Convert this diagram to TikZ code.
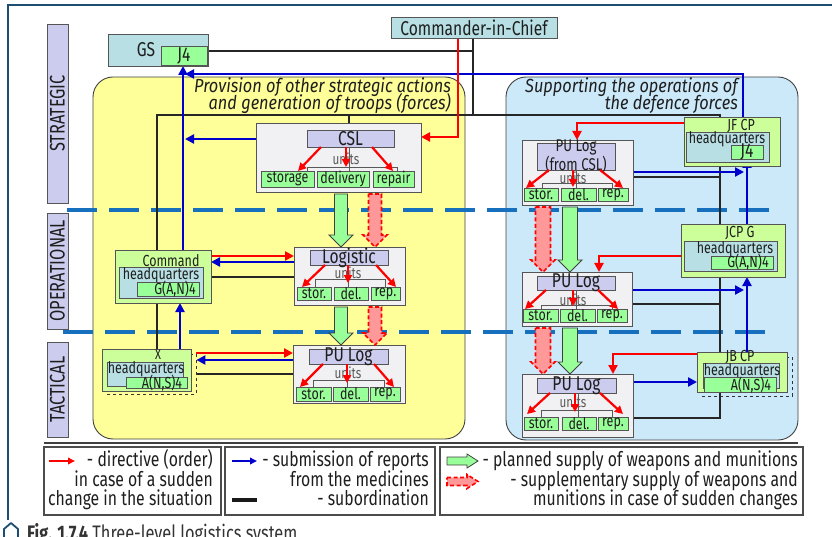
\documentclass[tikz,border=0pt]{standalone}
\usepackage{fontspec}
\setmainfont{Fira Sans}[FakeStretch=0.78]
\newfontfamily\areatitlefont{Fira Sans}[FakeStretch=0.86]
\usetikzlibrary{arrows.meta,fit,calc}
\definecolor{frameblue}{HTML}{1D4E6F}
\definecolor{tealf}{HTML}{B8E0E4}
\definecolor{lavf}{HTML}{CCCCEE}
\definecolor{subf}{HTML}{99FF99}
\definecolor{cpf}{HTML}{CCFF99}
\definecolor{grayf}{HTML}{F1F1F3}
\definecolor{yelf}{HTML}{FFFF99}
\definecolor{skyf}{HTML}{CCE9FA}
\definecolor{dashblue}{HTML}{1670BE}
\definecolor{repblue}{HTML}{0000CC}
\definecolor{ordred}{HTML}{FF0000}
\definecolor{pinkf}{HTML}{FF9999}
\definecolor{ink}{HTML}{1E1E1E}
\definecolor{edge}{HTML}{555555}
\newcommand\fsz[1]{\fontsize{#1}{#1}\selectfont}
% vertical block arrow: [half shaft width]{style}{top point}{tip point}
\newcommand\supply[4][6.5]{%
  \path[#2] let \p1=#3, \p2=#4 in
    (\x1-#1pt,\y1-2pt) -- (\x1+#1pt,\y1-2pt) -- (\x1+#1pt,\y2+12pt)
    -- (\x1+12pt,\y2+12pt) -- (\x1,\y2) -- (\x1-12pt,\y2+12pt)
    -- (\x1-#1pt,\y2+12pt) -- cycle;}
\pgfdeclarelayer{areas}
\pgfdeclarelayer{links}
\pgfsetlayers{areas,links,main}
\begin{document}
\begin{tikzpicture}[x=1pt,y=-1pt,
  basebox/.style={draw=edge,line width=0.8pt,inner sep=0pt,outer sep=0pt},
  tealbox/.style={basebox,fill=tealf},
  lavbox/.style={basebox,fill=lavf},
  subbox/.style={basebox,fill=subf},
  cpbox/.style={basebox,fill=cpf},
  unitbox/.style={basebox,fill=grayf},
  legbox/.style={draw=black!70,line width=1.1pt,inner sep=0pt,outer sep=0pt},
  shadowbox/.style={draw=black!80,dashed,line width=0.8pt,inner sep=0pt},
  region/.style={draw=black!75,line width=0.9pt,rounded corners=20pt,inner sep=0pt},
  lvl/.style={inner sep=0pt,text=ink,font=\fsz{21},rotate=90},
  t13/.style={inner sep=0pt,text=ink,font=\fsz{14}},
  t15/.style={inner sep=0pt,text=ink,font=\fsz{16}},
  t17/.style={inner sep=0pt,text=ink,font=\fsz{17}},
  t19/.style={inner sep=0pt,text=ink,font=\fsz{20}},
  unitstxt/.style={inner sep=0pt,text=black!65,font=\fsz{15}},
  ttl/.style={inner sep=0pt,text=ink,font=\areatitlefont\itshape\fsz{19}},
  legtxt/.style={inner sep=0pt,text=ink,font=\fsz{20.2},anchor=base east},
  treeln/.style={draw=black!65,line width=0.9pt},
  subord/.style={draw=black!85,line width=2.2pt},
  reparr/.style={draw=repblue,line width=2.9pt,-{Triangle[length=9pt,width=9pt]}},
  ordarr/.style={draw=ordred,line width=2.9pt,-{Triangle[length=9pt,width=9pt]}},
  ordin/.style={draw=ordred,line width=2.2pt,-{Triangle[length=8pt,width=8pt]}},
  plansup/.style={draw=black!75,line width=0.8pt,fill=subf,line join=miter},
  extrasup/.style={draw=ordred,line width=1.6pt,dash pattern=on 4pt off 2.5pt,fill=pinkf},
  levelline/.style={draw=dashblue,line width=3.5pt,dash pattern=on 30pt off 12pt},
]
\useasboundingbox (0,0) rectangle (832,537);
\clip (0,0) rectangle (832,537);

% page frame and caption
\draw[frameblue,line width=2.5pt] (8,520) -- (8,5) -- (840,5);
\draw[frameblue,line width=1.8pt,line join=round] (4,542) -- (4,529) -- (11,523) -- (18,529) -- (18,542);
\node[inner sep=0pt,anchor=base west,text=black!80,font=\fsz{21}] (caption) at (27,540)
  {\textbf{Fig. 1.7.4} Three-level logistics system};

% command levels
\node[lavbox,fit={(47,24)(68,203)},label={[lvl]center:STRATEGIC}] (strat) {};
\node[lavbox,fit={(47,213)(68,329)},label={[lvl]center:OPERATIONAL}] (oper) {};
\node[lavbox,fit={(47,342)(68,437)},label={[lvl]center:TACTICAL}] (tact) {};

% areas of responsibility
\begin{pgfonlayer}{areas}
\node[region,fill=yelf,fit={(93,77)(465,439)}] (yarea) {};
\node[region,fill=skyf,fit={(506,77)(798,440)}] (barea) {};
\draw[levelline] (67,210) -- (770,210);
\draw[levelline] (63,332) -- (770,332);
\end{pgfonlayer}
\node[ttl,anchor=base east] (ytitle1) at (451,93) {Provision of other strategic actions};
\node[ttl,anchor=base east] (ytitle2) at (451,110) {and generation of troops (forces)};
\node[ttl,anchor=base east] (btitle1) at (738,93) {Supporting the operations of};
\node[ttl,anchor=base east] (btitle2) at (738,110) {the defence forces};

% ---- command posts ----
\node[tealbox,fit={(108,34)(208,66)}] (gs) {};
\node[t19] (gstxt) at (146,50) {GS};
\node[subbox,fit={(161,46)(207,65)},label={[t19]center:J4}] (gsj4) {};
\node[tealbox,fit={(391,17)(557,38)},label={[t19]center:Commander-in-Chief}] (cinc) {};

% CSL
\node[unitbox,fit={(256,123)(421,192)}] (csl) {};
\node[lavbox,fit={(307,130)(394,147)},label={[t19]center:CSL}] (csllab) {};
\node[unitstxt] (cslunits) at (346,159) {units};
\node[subbox,fit={(261,171)(314,187)},label={[t15]center:storage}] (cs1) {};
\node[subbox,fit={(317,171)(369,187)},label={[t15]center:delivery}] (cs2) {};
\node[subbox,fit={(373,171)(414,187)},label={[t15]center:repair}] (cs3) {};

% Logistic units
\node[unitbox,fit={(294,247)(405,305)}] (log) {};
\node[lavbox,fit={(310,250)(388,265)},label={[t19]center:Logistic}] (loglab) {};
\node[unitstxt] (logunits) at (348,273) {units};
\node[subbox,fit={(297,287)(331,300)},label={[t15]center:stor.}] (lg1) {};
\node[subbox,fit={(334,287)(368,300)},label={[t15]center:del.}] (lg2) {};
\node[subbox,fit={(371,287)(400,300)},label={[t15]center:rep.}] (lg3) {};

% PU Log (tactical, left)
\node[unitbox,fit={(293,345)(405,403)}] (pu1) {};
\node[lavbox,fit={(309,349)(388,364)},label={[t19]center:PU Log}] (pu1lab) {};
\node[unitstxt] (pu1units) at (348,373) {units};
\node[subbox,fit={(296,387)(331,401)},label={[t15]center:stor.}] (p11) {};
\node[subbox,fit={(333,387)(368,401)},label={[t15]center:del.}] (p12) {};
\node[subbox,fit={(370,387)(400,401)},label={[t15]center:rep.}] (p13) {};

% Command headquarters
\node[cpbox,fit={(115,250)(211,303)}] (cmd) {};
\node[t15] (cmdtxt) at (171,261) {Command};
\node[tealbox,fit={(119,267)(203,298)}] (cmdhq) {};
\node[t15] (cmdhqtxt) at (161,275) {headquarters};
\node[subbox,fit={(137,282)(199,296)}] (cmdg) {};
\node[t15] (cmdgtxt) at (175,289) {G(A,N)4};

% X headquarters
\node[shadowbox,fit={(107,354)(196,394)}] (xsh) {};
\node[cpbox,fit={(102,349)(191,391)}] (xb) {};
\node[t13] (xtxt) at (158,355) {X};
\node[tealbox,fit={(107,362)(183,386)}] (xhq) {};
\node[t15] (xhqtxt) at (146,369) {headquarters};
\node[subbox,fit={(126,377)(187,388)}] (xa) {};
\node[t15] (xatxt) at (162,383) {A(N,S)4};

% JF CP
\node[cpbox,fit={(684,117)(780,166)}] (jf) {};
\node[t15] (jftxt) at (741,126) {JF CP};
\node[tealbox,fit={(686,132)(769,162)}] (jfhq) {};
\node[t15] (jfhqtxt) at (727,139) {headquarters};
\node[subbox,fit={(731,145)(763,159)},label={[t19]center:J4}] (jfj4) {};

% JCP G
\node[cpbox,fit={(681,224)(785,277)}] (jcp) {};
\node[t15] (jcptxt) at (740,233) {JCP G};
\node[tealbox,fit={(684,241)(777,271)}] (jcphq) {};
\node[t15] (jcphqtxt) at (735,249) {headquarters};
\node[subbox,fit={(711,256)(773,269)}] (jcpg) {};
\node[t15] (jcpgtxt) at (748,262) {G(A,N)4};

% JB CP
\node[shadowbox,fit={(702,357)(792,396)}] (jbsh) {};
\node[cpbox,fit={(697,352)(787,392)}] (jb) {};
\node[tealbox,fit={(703,363)(779,388)}] (jbhq) {};
\node[t15] (jbtxt) at (740,357) {JB CP};
\node[t15] (jbhqtxt) at (742,371) {headquarters};
\node[subbox,fit={(704,377)(776,392)}] (jba) {};
\node[t15] (jbatxt) at (751,385) {A(N,S)4};

% PU Log (from CSL)
\node[unitbox,fit={(522,140)(633,205)}] (pua) {};
\node[lavbox,fit={(537,143)(615,170)},label={[t17,align=center,font=\fontsize{17}{13}\selectfont]center:{PU Log\\(from CSL)}}] (pualab) {};
\node[unitstxt] (puaunits) at (573,178) {units};
\node[subbox,fit={(524,188)(558,201)},label={[t15]center:stor.}] (pa1) {};
\node[subbox,fit={(561,188)(596,201)},label={[t15]center:del.}] (pa2) {};
\node[subbox,fit={(598,188)(628,201)},label={[t15]center:rep.}] (pa3) {};

% PU Log (operational, right)
\node[unitbox,fit={(522,272)(632,326)}] (pub) {};
\node[lavbox,fit={(537,276)(615,290)},label={[t19]center:PU Log}] (publab) {};
\node[unitstxt] (pubunits) at (573,300) {units};
\node[subbox,fit={(523,309)(558,322)},label={[t15]center:stor.}] (pb1) {};
\node[subbox,fit={(560,309)(595,322)},label={[t15]center:del.}] (pb2) {};
\node[subbox,fit={(597,309)(627,322)},label={[t15]center:rep.}] (pb3) {};

% PU Log (tactical, right)
\node[unitbox,fit={(522,374)(633,437)}] (puc) {};
\node[lavbox,fit={(537,378)(616,393)},label={[t19]center:PU Log}] (puclab) {};
\node[unitstxt] (pucunits) at (573,402) {units};
\node[subbox,fit={(524,417)(558,430)},label={[t15]center:stor.}] (pc1) {};
\node[subbox,fit={(562,417)(596,430)},label={[t15]center:del.}] (pc2) {};
\node[subbox,fit={(598,417)(628,430)},label={[t15]center:rep.}] (pc3) {};

% ---- connectors, behind the boxes ----
\coordinate (tcorner) at (157,115);
\coordinate (rcorner) at (720,115);
\coordinate (bcornerL) at (183,74);
\coordinate (bcornerR) at (743,74);
\coordinate (bvert) at (747,200);
\begin{pgfonlayer}{links}
% subordination
\draw[subord] (gs.east |- 0,51) -| (cinc.south -| 473,0);
\draw[subord] (cinc.south -| 473,0) -- (473,0 |- tcorner);
\draw[subord] (cmd.north -| tcorner) -- (tcorner) -- (rcorner) -- (jf.north -| rcorner);
\draw[subord] (csl.north -| 349,0) -- (349,0 |- tcorner);
\draw[subord] (cmd.south -| tcorner) -- (xb.north -| tcorner);
\draw[subord] (cmd.east |- 0,277) -- (log.west |- 0,277);
\draw[subord] (xsh.east |- 0,374) -- (pu1.west |- 0,374);
\draw[subord] (jf.south -| rcorner) -- (jcp.north -| rcorner);
\draw[subord] (jcp.south -| rcorner) -- (jb.north -| rcorner);
\draw[subord] (jb.south -| rcorner) |- (puc.east |- 0,418);
\draw[subord] (pua.east |- 0,177) -- (rcorner |- 0,177);
\draw[subord] (pub.east |- 0,304) -- (rcorner |- 0,304);
% reports
\draw[reparr] (jf.north -| bcornerR) |- ($(bcornerL)+(2,0)$);
\draw[reparr] (cmd.north -| bcornerL) -- (gs.south -| bcornerL);
\draw[reparr] (csl.west |- 0,139) -- ($(bcornerL |- 0,139)+(2,0)$);
\draw[reparr] (xb.north -| 180,0) -- (cmd.south -| 180,0);
\draw[reparr] (log.west |- 0,262) -- (cmd.east |- 0,262);
\draw[reparr] (pu1.west |- 0,360) -- (xsh.east |- 0,360);
\draw[reparr] (pua.east |- 0,172) -- ($(bvert |- 0,172)+(-3,0)$);
\draw[reparr] (pub.east |- 0,290) -- ($(bvert |- 0,290)+(-3,0)$);
\draw[reparr] (jcp.north -| bvert) -- (jfj4.south -| bvert);
\draw[reparr] (jb.north -| bvert) -- (jcp.south -| bvert);
\draw[reparr] (puc.east |- 0,382) -- (jb.west |- 0,382);
% directives
\draw[ordarr] (cinc.south -| 458,0) |- (csl.east |- 0,137);
\draw[ordarr] (cmd.east |- 0,256) -- (log.west |- 0,256);
\draw[ordarr] (xsh.east |- 0,353) -- (pu1.west |- 0,353);
\draw[ordarr] (jf.west |- 0,123) -| (pua.north -| 577,0);
\draw[ordarr] (jcp.west |- 0,256) -| (pub.north -| 599,0);
\draw[ordarr] (jb.west |- 0,354) -| (puc.north -| 613,0);
\end{pgfonlayer}

% ---- unit trees inside the logistic boxes ----
\draw[treeln] (cs1.north -| 307,0) -- (307,167) -- (397,167) -- (cs3.north -| 397,0);
\draw[treeln] (csllab.south -| 349,0) -- (cs2.north -| 349,0);
\draw[treeln] (lg1.north -| 315,0) -- (315,279) -- (385,279) -- (lg3.north -| 385,0);
\draw[treeln] (loglab.south -| 348,0) -- (lg2.north -| 348,0);
\draw[treeln] (p11.north -| 313,0) -- (313,380) -- (384,380) -- (p13.north -| 384,0);
\draw[treeln] (pu1lab.south -| 347,0) -- (p12.north -| 347,0);
\draw[treeln] (pa1.north -| 542,0) -- (542,183) -- (612,183) -- (pa3.north -| 612,0);
\draw[treeln] (pualab.south -| 576,0) -- (pa2.north -| 576,0);
\draw[treeln] (pb1.north -| 541,0) -- (541,305) -- (612,305) -- (pb3.north -| 612,0);
\draw[treeln] (publab.south -| 576,0) -- (pb2.north -| 576,0);
\draw[treeln] (pc1.north -| 541,0) -- (541,410) -- (612,410) -- (pc3.north -| 612,0);
\draw[treeln] (puclab.south -| 578,0) -- (pc2.north -| 578,0);

% directives to the subunits
\draw[ordin] (csllab.south -| 321,0) -- (cs1.north -| 298,0);
\draw[ordin] (csllab.south -| 346,0) -- ($(cs2.north -| 346,0)+(0,-4)$);
\draw[ordin] (csllab.south -| 372,0) -- (cs3.north -| 393,0);
\draw[ordin] (loglab.south -| 325,0) -- (lg1.north -| 302,0);
\draw[ordin] (loglab.south -| 348,0) -- ($(lg2.north -| 348,0)+(0,-4)$);
\draw[ordin] (loglab.south -| 376,0) -- (lg3.north -| 396,0);
\draw[ordin] (pu1lab.south -| 323,0) -- (p11.north -| 300,0);
\draw[ordin] (pu1lab.south -| 347,0) -- ($(p12.north -| 347,0)+(0,-4)$);
\draw[ordin] (pu1lab.south -| 374,0) -- (p13.north -| 394,0);
\draw[ordin] (pualab.south -| 549,0) -- (pa1.north -| 526,0);
\draw[ordin] (pualab.south -| 573,0) -- ($(pa2.north -| 573,0)+(0,-1)$);
\draw[ordin] (pualab.south -| 600,0) -- (pa3.north -| 623,0);
\draw[ordin] (publab.south -| 546,0) -- (pb1.north -| 525,0);
\draw[ordin] (publab.south -| 573,0) -- ($(pb2.north -| 573,0)+(0,-3)$);
\draw[ordin] (publab.south -| 598,0) -- (pb3.north -| 618,0);
\draw[ordin] (puclab.south -| 550,0) -- ($(pc1.north -| 527,0)+(0,-3)$);
\draw[ordin] (puclab.south -| 575,0) -- ($(pc2.north -| 575,0)+(0,-5)$);
\draw[ordin] (puclab.south -| 600,0) -- ($(pc3.north -| 623,0)+(0,-3)$);

% ---- supply of weapons and munitions ----
\supply{plansup}{(341,0 |- csl.south)}{(341,0 |- log.north)}
\supply{extrasup}{(375,0 |- csl.south)}{(375,0 |- log.north)}
\supply{plansup}{(341,0 |- log.south)}{(341,0 |- pu1.north)}
\supply{extrasup}{(375,0 |- log.south)}{(375,0 |- pu1.north)}
\supply[7.5]{plansup}{(570,0 |- pua.south)}{(570,0 |- pub.north)}
\supply[7.5]{extrasup}{(543,0 |- pua.south)}{(543,0 |- pub.north)}
\supply[7.5]{plansup}{(570,0 |- pub.south)}{(570,0 |- puc.north)}
\supply[7.5]{extrasup}{(543,0 |- pub.south)}{(543,0 |- puc.north)}

% ---- legend ----
\draw[black!75,line width=2.4pt] (44,443) -- (798,443);
\node[legbox,fit={(44,447)(221,515)}] (leg1) {};
\node[legbox,fit={(225,447)(435,515)}] (leg2) {};
\node[legbox,fit={(440,447)(803,515)}] (leg3) {};
\draw[draw=ordred,line width=2pt,-{Triangle[length=7pt,width=6.5pt]}] ($(leg1.north west)+(5,14)$) -- ++(26,0);
\node[legtxt] (l1a) at (213,466) {- directive (order)};
\node[legtxt] (l1b) at (213,486) {in case of a sudden};
\node[legtxt] (l1c) at (213,505.5) {change in the situation};
\draw[draw=repblue,line width=2pt,-{Triangle[length=7pt,width=6.5pt]}] ($(leg2.north west)+(7,14)$) -- ++(25,0);
\node[legtxt] (l2a) at (429,466) {- submission of reports};
\node[legtxt] (l2b) at (429,486) {from the medicines};
\node[legtxt] (l2c) at (429,505.5) {- subordination};
\draw[black!90,line width=3.5pt] ($(leg2.north west)+(7,53)$) -- ++(25,0);
\path[plansup] (447,457) -- (467,457) -- (467,454) -- (478,461) -- (467,468) -- (467,465) -- (447,465) -- cycle;
\path[extrasup] (447,477.5) -- (467,477.5) -- (467,474.5) -- (478,481.5) -- (467,488.5) -- (467,485.5) -- (447,485.5) -- cycle;
\node[legtxt] (l3a) at (798,466) {- planned supply of weapons and munitions};
\node[legtxt] (l3b) at (798,486) {- supplementary supply of weapons and};
\node[legtxt] (l3c) at (798,505.5) {munitions in case of sudden changes};
\end{tikzpicture}
\end{document}
